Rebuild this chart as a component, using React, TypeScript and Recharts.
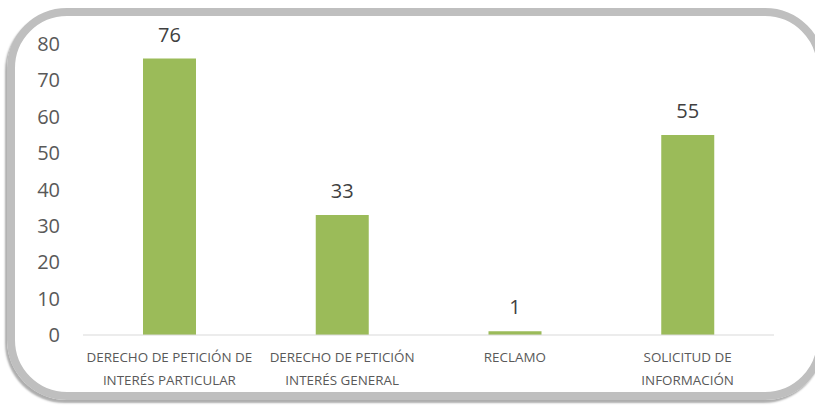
import React from 'react';
import { BarChart, Bar, XAxis, YAxis, LabelList } from 'recharts';

const categories = [
  'DERECHO DE PETICIÓN DE|INTERÉS PARTICULAR',
  'DERECHO DE PETICIÓN|INTERÉS GENERAL',
  'RECLAMO',
  'SOLICITUD DE|INFORMACIÓN',
];
const values = [76, 33, 1, 55];
const yTicks = [0, 10, 20, 30, 40, 50, 60, 70, 80];

const data = categories.map((c, i) => ({ name: c, value: values[i] }));

const FONT = '"Open Sans", "DejaVu Sans", sans-serif';

const XTick = (props: any) => {
  const { x, y, payload } = props;
  const lines = String(payload.value).split('|');
  return (
    <text x={x} y={y} textAnchor="middle" fill="#595959" fontSize={13.4} fontFamily={FONT}>
      {lines.map((l: string, i: number) => (
        <tspan key={i} x={x} dy={i === 0 ? 19 : 23}>
          {l}
        </tspan>
      ))}
    </text>
  );
};

export default function App() {
  return (
    <div style={{ position: 'absolute', left: 0, top: 0, width: 815, height: 405, overflow: 'hidden', background: '#fff' }}>
      <div
        style={{
          position: 'absolute',
          left: 7,
          top: 8,
          width: 818,
          height: 392,
          boxSizing: 'border-box',
          border: '8px solid #bfbfbf',
          borderRadius: 60,
          boxShadow: '-2px 3px 2px rgba(0,0,0,0.32)',
        }}
      />
      <div style={{ position: 'absolute', left: 0, top: 0 }}>
        <BarChart width={815} height={405} data={data} margin={{ top: 44, right: 41, left: 0, bottom: 0 }}>
          <XAxis
            dataKey="name"
            height={70}
            tickLine={false}
            axisLine={{ stroke: '#d9d9d9', strokeWidth: 1 }}
            tick={<XTick />}
            interval={0}
          />
          <YAxis
            width={83}
            domain={[0, 80]}
            ticks={yTicks}
            tickLine={false}
            axisLine={false}
            tickMargin={17}
            tick={{ fill: '#595959', fontSize: 20, fontFamily: FONT }}
          />
          <Bar dataKey="value" fill="#9bbb59" barSize={53} isAnimationActive={false}>
            <LabelList dataKey="value" position="top" offset={17} fill="#404040" fontSize={20} fontFamily={FONT} />
          </Bar>
        </BarChart>
      </div>
    </div>
  );
}
